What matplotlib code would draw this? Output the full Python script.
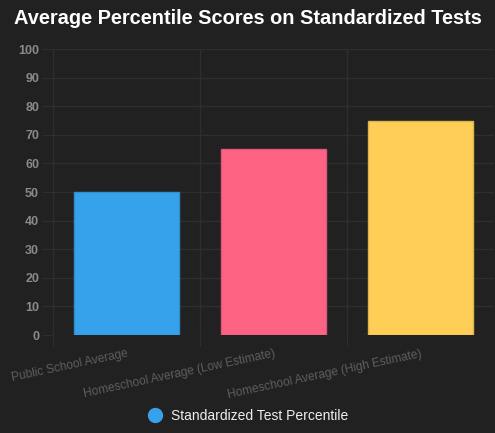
import matplotlib.pyplot as plt
from matplotlib.lines import Line2D

# -------------------------------
# Data
# -------------------------------
categories = [
    "Public School Average",
    "Homeschool Average (Low Estimate)",
    "Homeschool Average (High Estimate)",
]
percentiles = [50, 65, 75]
bar_colors = ["#36A2EB", "#FF6384", "#FFCE56"]
edge_colors = ["#2f8fd0", "#e0577a", "#e0b44c"]
y_ticks = list(range(0, 101, 10))

bg = "#212121"
grid_color = "#2e2e2e"

plt.rcParams["font.family"] = ["Liberation Sans", "DejaVu Sans"]

fig = plt.figure(figsize=(4.95, 4.33), dpi=100, facecolor=bg)
ax = fig.add_axes([0.107, 0.2263, 0.891, 0.6605])
ax.set_facecolor(bg)

x = range(len(categories))
ax.bar(x, percentiles, width=0.72, color=bar_colors,
       edgecolor=edge_colors, linewidth=1, zorder=3)

ax.set_xlim(-0.5, len(categories) - 0.5)
ax.set_ylim(0, 100)

# grid lines between categories, like the reference
for b in [-0.5, 0.5, 1.5, 2.5]:
    ax.axvline(b, color=grid_color, linewidth=1, zorder=1)
ax.set_yticks(y_ticks)
ax.yaxis.grid(True, color=grid_color, linewidth=1, zorder=1)
ax.set_axisbelow(True)

ax.set_yticklabels([str(v) for v in y_ticks], color="#8a8a8a",
                   fontsize=9, fontweight="bold")
ax.tick_params(axis="y", length=8, color=grid_color, pad=2)

ax.set_xticks([-0.5, 0.5, 1.5])
ax.set_xticklabels([])
ax.tick_params(axis="x", length=8, color=grid_color)

for i, label in enumerate(categories):
    ax.text(i, -4.5, label, rotation=12, ha="right", va="top",
            rotation_mode="anchor", color="#5e5e5e", fontsize=8.6)

for s in ax.spines.values():
    s.set_visible(False)

fig.text(0.5, 0.958, "Average Percentile Scores on Standardized Tests",
         ha="center", va="center", color="white",
         fontsize=14.4, fontweight="bold")

handle = Line2D([], [], marker="o", linestyle="", markersize=10,
                markerfacecolor="#36A2EB", markeredgecolor="#36A2EB")
fig.legend([handle], ["Standardized Test Percentile"],
           loc="center", bbox_to_anchor=(0.5, 0.04), frameon=False,
           labelcolor="#eeeeee", fontsize=10, handletextpad=0.5,
           handlelength=1.2)

fig.savefig("out.png", dpi=100, facecolor=bg)
